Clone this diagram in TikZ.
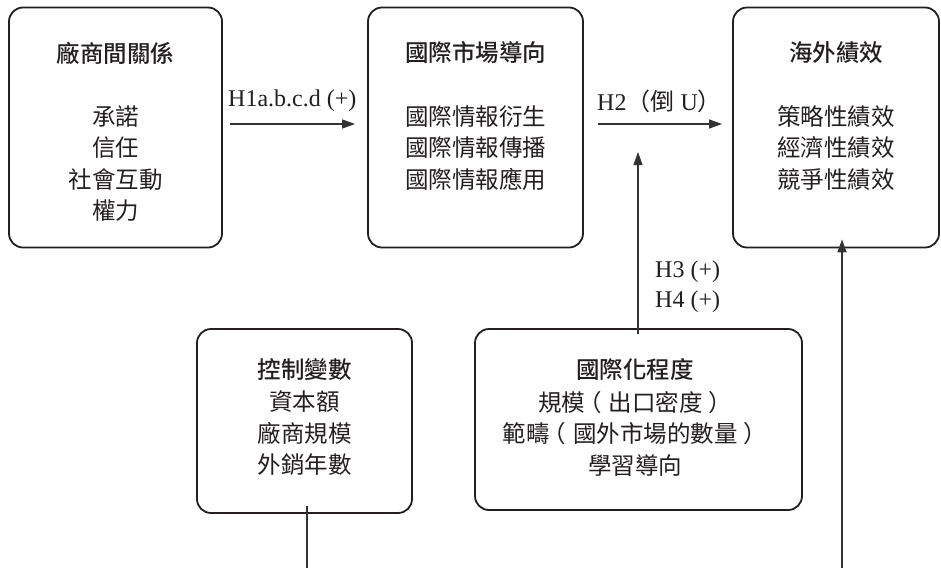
\documentclass[tikz,border=0pt]{standalone}
\usepackage{fontspec}
\setmainfont{Liberation Serif}
\newfontfamily\cjk{Noto Sans CJK TC}
\newfontfamily\cjkm{Noto Sans CJK TC Medium}
\usetikzlibrary{arrows.meta}
\definecolor{boxc}{HTML}{231F20}
\definecolor{arrc}{HTML}{333333}
\newcommand{\lp}{\hspace{-0.3em}（\hspace{0.3em}}
\newcommand{\rp}{\hspace{0.25em}）}
\begin{document}
\begin{tikzpicture}[x=1pt,y=-1pt,
  box/.style={draw=boxc, line width=1.8pt, rounded corners=14pt, inner sep=0pt},
  txt/.style={inner sep=0pt, align=center, text=boxc, font=\cjk\fontsize{23.5}{31.5}\selectfont},
  ttl/.style={inner sep=0pt, align=center, text=boxc, font=\cjkm\fontsize{23.5}{31.5}\selectfont},
  lbl/.style={inner sep=0pt, text=boxc, font=\fontsize{24}{30}\selectfont},
  arr/.style={draw=arrc, line width=1.2pt, -{Triangle[length=13pt,width=9pt]}},
  ln/.style={draw=arrc, line width=1.2pt}]
\useasboundingbox (0,0) rectangle (941,568);

% boxes
\node[box, minimum width=213pt, minimum height=240pt] (rel) at (115.5,127.5) {};
\node[box, minimum width=215pt, minimum height=240pt] (imo) at (475.5,127.5) {};
\node[box, minimum width=206pt, minimum height=240pt] (perf) at (836,127.5) {};
\node[box, minimum width=215pt, minimum height=184pt] (ctrl) at (304.5,421) {};
\node[box, minimum width=327pt, minimum height=181pt] (intl) at (638.5,419.5) {};

% texts
\node[ttl] (relT) at (115.5,53) {廠商間關係};
\node[txt] (relI) at (115.5,163.5) {承諾\\信任\\社會互動\\權力};
\node[ttl] (imoT) at (475.5,53) {國際市場導向};
\node[txt] (imoI) at (475.5,148) {國際情報衍生\\國際情報傳播\\國際情報應用};
\node[ttl] (perfT) at (836,53) {海外績效};
\node[txt] (perfI) at (836,148) {策略性績效\\經濟性績效\\競爭性績效};
\node[ttl] (ctrlT) at (304.5,370) {控制變數};
\node[txt] (ctrlI) at (304.5,433.5) {資本額\\廠商規模\\外銷年數};
\node[ttl] (intlT) at (635,370) {國際化程度};
\node[txt] (intlI) at (635,433.5) {規模\lp 出口密度\rp\\範疇\lp 國外市場的數量\rp\\學習導向};

% connectors
\coordinate (h3tip) at (638,152);
\coordinate (ctrlEnd) at (307,568);
\coordinate (perfStart) at (842,568);
\draw[arr] ([xshift=7pt,yshift=3.5pt]rel.east) -- ([xshift=-12pt,yshift=3.5pt]imo.west);
\draw[arr] ([xshift=14pt,yshift=3.5pt]imo.east) -- ([xshift=-10pt,yshift=3.5pt]perf.west);
\draw[arr] ([yshift=-6pt]intl.north -| h3tip) -- (h3tip);
\draw[ln] ([yshift=8pt]ctrl.south -| ctrlEnd) -- (ctrlEnd);
\draw[arr] (perfStart) -- ([yshift=9pt]perf.south -| perfStart);

% labels
\node[lbl, anchor=west] (h1) at (228,101) {H1a.b.c.d (+)};
\node[lbl, anchor=west] (h2) at (597,101) {H2{\cjk （倒} U{\cjk ）}};
\node[lbl, anchor=west] (h3) at (655,272) {H3 (+)};
\node[lbl, anchor=west] (h4) at (655,302) {H4 (+)};
\end{tikzpicture}
\end{document}
